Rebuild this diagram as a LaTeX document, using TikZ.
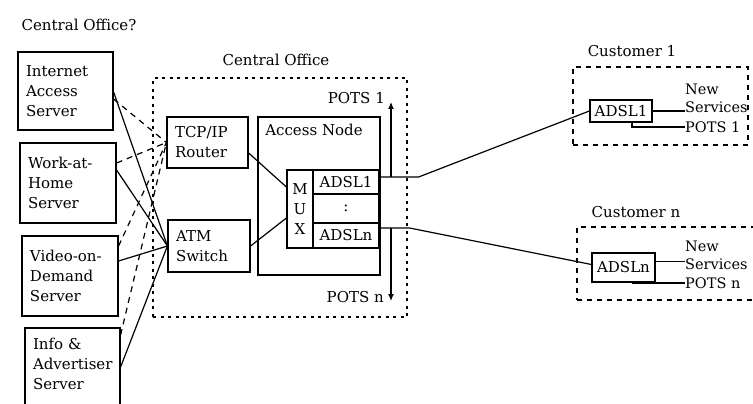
\documentclass[tikz,border=0pt]{standalone}
\usepackage{fontspec}
\setmainfont{DejaVu Serif}
\usetikzlibrary{arrows.meta}
\begin{document}
\begin{tikzpicture}[x=1pt,y=-1pt,
  every node/.style={font=\fontsize{15}{20}\selectfont},
  sbox/.style={draw,line width=1.2pt,rectangle,inner xsep=8pt,inner ysep=0pt,align=left},
  cell/.style={draw,line width=1.2pt,rectangle,inner sep=0pt,align=center},
  plain/.style={inner sep=0pt},
  svc/.style={inner sep=0pt,align=left,anchor=west,font=\fontsize{14.5}{18}\selectfont},
  cobox/.style={draw,line width=1.5pt,dash pattern=on 3pt off 4.5pt,inner sep=0pt},
  custbox/.style={draw,line width=1.4pt,dash pattern=on 5pt off 5pt,inner sep=0pt},
  wire/.style={line width=1.2pt},
  dwire/.style={line width=1.2pt,dash pattern=on 6pt off 5pt},
  pots/.style={line width=1.2pt,-{Latex[length=7pt,width=6pt]}}
]
\useasboundingbox (0,0) rectangle (753,404);
\clip (0,0) rectangle (753,404);

% titles
\node[plain] (t-co2) at (79,25) {Central Office?};
\node[plain] (t-co) at (276,60) {Central Office};
\node[plain] (t-c1) at (632,51) {Customer 1};
\node[plain] (t-cn) at (636,212) {Customer n};

% server boxes
\node[sbox,minimum width=95pt,minimum height=78pt,text width=79pt] (ias) at (65.5,91) {Internet\\Access\\Server};
\node[sbox,minimum width=96pt,minimum height=80pt,text width=80pt] (wah) at (68,183) {Work-at-\\Home\\Server};
\node[sbox,minimum width=96pt,minimum height=80pt,text width=80pt] (vod) at (70,276) {Video-on-\\Demand\\Server};
\node[sbox,minimum width=95pt,minimum height=92pt] (info) at (72.5,374) {};
\node[plain,align=left,text width=79pt] (info-t) at (72.5,364) {Info \&\\Advertiser\\Server};

% central office
\node[cobox,minimum width=254pt,minimum height=239pt] (co) at (280,197.5) {};
\node[sbox,minimum width=81pt,minimum height=51pt,text width=65pt] (router) at (207.5,142.5) {TCP/IP\\Router};
\node[sbox,minimum width=82pt,minimum height=52pt,text width=66pt] (atm) at (209,246) {ATM\\Switch};
\node[cell,minimum width=122pt,minimum height=158pt] (an) at (319,196) {};
\node[plain] (an-t) at (314,130) {Access Node};
\node[cell,minimum width=26pt,minimum height=78pt] (mux) at (300,209) {M\\U\\X};
\node[cell,minimum width=66pt,minimum height=24pt] (adsl1) at (346,182) {ADSL1};
\node[cell,minimum width=66pt,minimum height=29pt] (adslm) at (346,208.5) {:};
\node[cell,minimum width=66pt,minimum height=25pt] (adsln) at (346,235.5) {ADSLn};

\coordinate (p1tip) at (391,102);
\coordinate (pntip) at (391,301);
\node[plain,anchor=east] (pots1) at (385,98) {POTS 1};
\node[plain,anchor=east] (potsn) at (384,297) {POTS n};

% customers
\node[custbox,minimum width=175pt,minimum height=78pt] (cust1) at (660.5,106) {};
\node[cell,minimum width=62pt,minimum height=22pt] (c1adsl) at (621,111) {ADSL1};
\node[svc] (c1svc) at (685,98) {New\\Services};
\node[svc] (c1pots) at (685,127) {POTS 1};

\node[custbox,minimum width=188pt,minimum height=73pt] (custn) at (671,263.5) {};
\node[cell,minimum width=63pt,minimum height=29pt] (cnadsl) at (623.5,267.5) {ADSLn};
\node[svc] (cnsvc) at (685,255) {New\\Services};
\node[svc] (cnpots) at (685,283) {POTS n};

% left connections: dashed to router, solid to ATM
\draw[dwire] ([yshift=-8pt]ias.east) -- (router.west);
\draw[dwire] ([yshift=20pt]wah.east) -- (router.west);
\draw[dwire] ([yshift=30pt]vod.east) -- (router.west);
\draw[dwire] ([yshift=39pt]info.east) -- (router.west);
\draw[wire] ([yshift=-1pt]ias.east) -- (atm.west);
\draw[wire] ([yshift=13pt]wah.east) -- (atm.west);
\draw[wire] ([yshift=15pt]vod.east) -- (atm.west);
\draw[wire] ([yshift=7pt]info.east) -- (atm.west);

% into the mux
\draw[wire] ([yshift=-10.5pt]router.east) -- ([yshift=22pt]mux.west);
\draw[wire] (atm.east) -- ([yshift=-9pt]mux.west);

% lines out
\coordinate (l1) at ([yshift=5pt]adsl1.east);
\coordinate (ln) at ([yshift=7.5pt]adsln.east);
\draw[wire] (l1) -- ++(39,0) -- (c1adsl.west);
\draw[wire] (ln) -- ++(30,0) -- ([yshift=3pt]cnadsl.west);
\draw[pots] (l1 -| p1tip) -- (p1tip);
\draw[pots] (ln -| pntip) -- (pntip);

% customer premises wiring
\draw[wire] (c1adsl.east) -- (c1adsl.east -| c1svc.west);
\draw[wire] ([xshift=11pt]c1adsl.south) |- (c1pots.west);
\draw[wire] ([yshift=6pt]cnadsl.east) -- ([yshift=6pt]cnadsl.east -| cnsvc.west);
\draw[wire] ([xshift=9pt]cnadsl.south) |- (cnpots.west);
\end{tikzpicture}
\end{document}
